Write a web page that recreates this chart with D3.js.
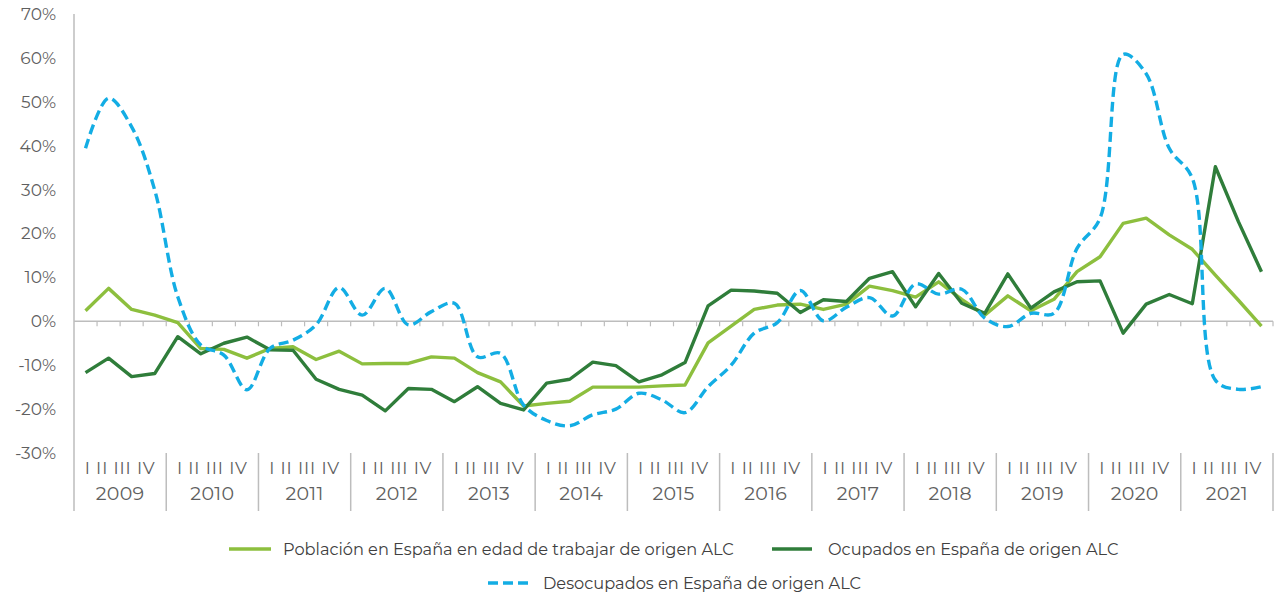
<!DOCTYPE html>
<html>
<head>
<meta charset="utf-8">
<script src="https://cdn.jsdelivr.net/npm/d3@7"></script>
<style>
  body { margin: 0; background: #fff; }
  text { font-family: "Montserrat", "Lato", "Open Sans", sans-serif; }
</style>
</head>
<body>
<div id="chart"></div>
<script>
// years and quarters on the category axis
const years = ["2009","2010","2011","2012","2013","2014","2015","2016","2017","2018","2019","2020","2021"];
const quarterText = "I II III IV";
const yTicks = [-30,-20,-10,0,10,20,30,40,50,60,70];

// variación interanual (%), one value per quarter, 2009 I .. 2021 IV
const poblacion = [
  2.4, 7.5, 2.7, 1.4,   -0.3, -6.2, -6.4, -8.4,   -6.2, -5.8, -8.7, -6.8,
  -9.7, -9.6, -9.6, -8.1,   -8.4, -11.7, -13.8, -19.3,   -18.7, -18.2, -15.0, -15.0,
  -15.0, -14.7, -14.5, -4.9,   -1.1, 2.7, 3.7, 3.9,   2.7, 3.9, 8.0, 7.0,
  5.5, 9.0, 5.0, 1.4,   5.8, 2.4, 5.0, 11.3,   14.7, 22.3, 23.5, 19.7,
  16.4, 10.5, 4.8, -1.1
];
const ocupados = [
  -11.7, -8.4, -12.6, -11.9,   -3.5, -7.4, -5.0, -3.6,   -6.5, -6.6, -13.2, -15.5,
  -16.8, -20.4, -15.3, -15.5,   -18.3, -14.9, -18.7, -20.2,   -14.1, -13.2, -9.3, -10.1,
  -13.8, -12.2, -9.4, 3.5,   7.1, 6.9, 6.4, 2.0,   4.9, 4.5, 9.8, 11.3,
  3.3, 10.9, 4.1, 1.8,   10.8, 3.0, 6.7, 9.0,   9.2, -2.7, 3.9, 6.1,
  4.0, 35.2, 22.7, 11.3
];
const desocupados = [
  39.4, 50.8, 44.3, 29.9,   5.6, -5.4, -7.7, -15.6,   -6.2, -4.3, -0.8, 7.7,
  1.4, 7.5, -0.8, 2.2,   4.1, -8.1, -7.3, -19.1,   -22.6, -23.8, -21.3, -20.0,
  -16.4, -17.9, -20.8, -14.9,   -10.0, -2.7, -0.3, 7.0,   0.1, 3.2, 5.4, 1.2,
  8.5, 6.2, 7.3, 0.7,   -1.2, 1.8, 1.8, 16.6,   23.5, 60.8, 56.4, 39.4,
  32.6, -13.4, -15.5, -14.9
];

const seriesNames = [
  "Población en España en edad de trabajar de origen ALC",
  "Ocupados en España de origen ALC",
  "Desocupados en España de origen ALC"
];

const width = 1278, height = 595;
const plotLeft = 74, plotRight = 1273, plotTop = 14, plotBottom = 453;
const colors = ["#8dbf3e", "#2f7d3a", "#13ade4"];
const axisColor = "#bdbdbd";
const textColor = "#5f5f5f";
const lineWidth = 3.4;
const dash = "10,5";

const svg = d3.select("#chart").append("svg")
  .attr("width", width).attr("height", height);

const quarters = d3.range(years.length * 4);
const x = d3.scaleBand().domain(quarters).range([plotLeft, plotRight]).padding(0);
const yearX = d3.scaleBand().domain(years).range([plotLeft, plotRight]);
const y = d3.scaleLinear().domain([-30, 70]).range([plotBottom, plotTop]);

// y axis labels
const yAxis = d3.axisLeft(y).tickValues(yTicks).tickSize(0).tickPadding(0)
  .tickFormat(d => d + "%");
const yg = svg.append("g").attr("transform", `translate(56,0)`).call(yAxis);
yg.select(".domain").remove();
yg.selectAll("text").attr("fill", textColor)
  .style("font-size", "17px")
  .style("font-family", '"Montserrat", "Lato", "Open Sans", sans-serif');

// left vertical line
svg.append("line")
  .attr("x1", plotLeft).attr("x2", plotLeft).attr("y1", plotTop).attr("y2", 511)
  .attr("stroke", axisColor).attr("stroke-width", 1.5);

// zero line with quarter ticks
svg.append("line")
  .attr("x1", plotLeft).attr("x2", plotRight).attr("y1", y(0)).attr("y2", y(0))
  .attr("stroke", axisColor).attr("stroke-width", 1.5);
svg.append("g").selectAll("line").data(d3.range(1, quarters.length + 1)).join("line")
  .attr("x1", d => plotLeft + d * x.bandwidth()).attr("x2", d => plotLeft + d * x.bandwidth())
  .attr("y1", y(0)).attr("y2", y(0) + 5)
  .attr("stroke", axisColor).attr("stroke-width", 1.2);

// year separators below the plot
svg.append("g").selectAll("line").data(years.slice(1).concat(["end"])).join("line")
  .attr("x1", d => d === "end" ? plotRight : yearX(d))
  .attr("x2", d => d === "end" ? plotRight : yearX(d))
  .attr("y1", plotBottom).attr("y2", 511)
  .attr("stroke", axisColor).attr("stroke-width", 1.5);

// category labels
const cat = svg.append("g").selectAll("g").data(years).join("g");
cat.append("text")
  .attr("x", d => yearX(d) + yearX.bandwidth() / 2).attr("y", 474)
  .attr("text-anchor", "middle").attr("fill", textColor)
  .style("font-size", "17px").style("letter-spacing", "0.9px").text(quarterText);
cat.append("text")
  .attr("x", d => yearX(d) + yearX.bandwidth() / 2).attr("y", 500)
  .attr("text-anchor", "middle").attr("fill", textColor)
  .style("font-size", "19px").style("letter-spacing", "0.3px").text(d => d);

// lines
const lineStraight = d3.line().x((d, i) => x(i) + x.bandwidth() / 2).y(d => y(d));
const lineSmooth = d3.line().x((d, i) => x(i) + x.bandwidth() / 2).y(d => y(d))
  .curve(d3.curveCatmullRom.alpha(0.5));

svg.append("path").datum(poblacion).attr("d", lineStraight)
  .attr("fill", "none").attr("stroke", colors[0]).attr("stroke-width", lineWidth)
  .attr("stroke-linejoin", "round");
svg.append("path").datum(ocupados).attr("d", lineStraight)
  .attr("fill", "none").attr("stroke", colors[1]).attr("stroke-width", lineWidth)
  .attr("stroke-linejoin", "round");
svg.append("path").datum(desocupados).attr("d", lineSmooth)
  .attr("fill", "none").attr("stroke", colors[2]).attr("stroke-width", lineWidth)
  .attr("stroke-dasharray", dash);

// legend
const legendItems = [
  {name: seriesNames[0], color: colors[0], dash: null, x1: 229, x2: 271, tx: 283, y: 549},
  {name: seriesNames[1], color: colors[1], dash: null, x1: 772, x2: 812, tx: 828, y: 549},
  {name: seriesNames[2], color: colors[2], dash: dash, x1: 488, x2: 528, tx: 543, y: 583}
];
const lg = svg.append("g").selectAll("g").data(legendItems).join("g");
lg.append("line")
  .attr("x1", d => d.x1).attr("x2", d => d.x2).attr("y1", d => d.y).attr("y2", d => d.y)
  .attr("stroke", d => d.color).attr("stroke-width", lineWidth)
  .attr("stroke-dasharray", d => d.dash);
lg.append("text")
  .attr("x", d => d.tx).attr("y", d => d.y).attr("dy", "0.35em")
  .attr("fill", "#404040").style("font-size", "16.2px").text(d => d.name);
</script>
</body>
</html>
